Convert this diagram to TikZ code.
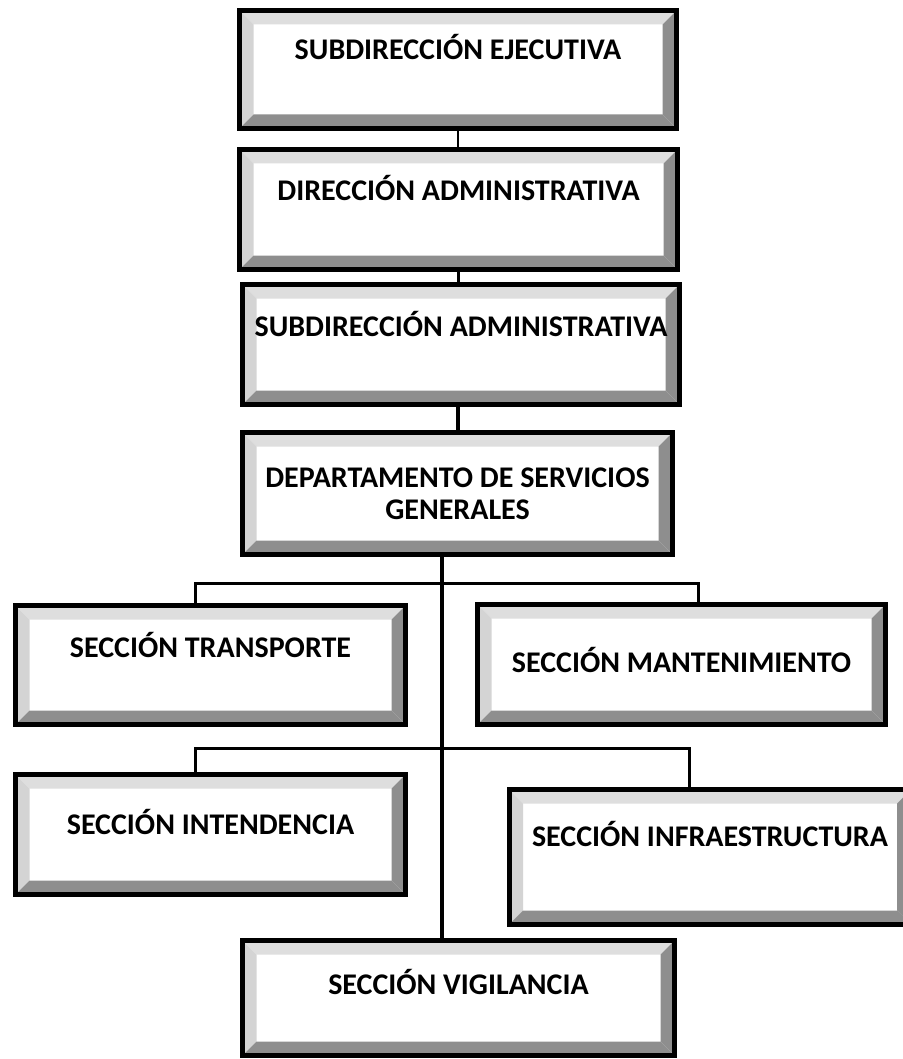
\documentclass[tikz,border=0pt]{standalone}
\usepackage{fontspec}
\setmainfont{Carlito}
\usepackage{tikz}
\usetikzlibrary{calc}
\definecolor{bevtop}{HTML}{DEDEDE}
\definecolor{bevleft}{HTML}{D4D4D4}
\definecolor{bevdark}{HTML}{8E8E8E}

\begin{document}
\begin{tikzpicture}[x=0.5pt,y=-0.5pt,
  bevel/.style={path picture={
    \fill[bevtop] (path picture bounding box.north west) -- (path picture bounding box.north east)
      -- ([shift={(-7pt,-7pt)}]path picture bounding box.north east) -- ([shift={(7pt,-7pt)}]path picture bounding box.north west) -- cycle;
    \fill[bevleft] (path picture bounding box.north west) -- (path picture bounding box.south west)
      -- ([shift={(7pt,7pt)}]path picture bounding box.south west) -- ([shift={(7pt,-7pt)}]path picture bounding box.north west) -- cycle;
    \fill[bevdark] (path picture bounding box.north east) -- (path picture bounding box.south east)
      -- ([shift={(-7pt,7pt)}]path picture bounding box.south east) -- ([shift={(-7pt,-7pt)}]path picture bounding box.north east) -- cycle;
    \fill[bevdark] (path picture bounding box.south west) -- (path picture bounding box.south east)
      -- ([shift={(-7pt,7pt)}]path picture bounding box.south east) -- ([shift={(7pt,7pt)}]path picture bounding box.south west) -- cycle;
  }},
  orgbox/.style={draw,line width=2.5pt,fill=white,inner sep=0pt,bevel,
    font=\bfseries\fontsize{15}{15.8}\selectfont},
  lift/.style={text height=10pt,text depth=#1},
  link/.style={line width=#1}]
  \useasboundingbox (0,0) rectangle (903,1059);

  % boxes
  \node[orgbox,lift=20pt,minimum width=218.5pt,minimum height=59pt] (subej) at (458,69.5) {SUBDIRECCIÓN EJECUTIVA};
  \node[orgbox,lift=19pt,minimum width=219pt,minimum height=60pt] (dirad) at (458.5,209.5) {DIRECCIÓN ADMINISTRATIVA};
  \node[orgbox,lift=18pt,minimum width=218.5pt,minimum height=60pt] (subad) at (461,344.5) {SUBDIRECCIÓN ADMINISTRATIVA};
  \node[orgbox,align=center,minimum width=215pt,minimum height=61pt] (depto) at (457.5,493.5) {DEPARTAMENTO DE SERVICIOS\\GENERALES};
  \node[orgbox,lift=18pt,minimum width=195pt,minimum height=59.5pt] (transp) at (210.5,665) {SECCIÓN TRANSPORTE};
  \node[orgbox,lift=2pt,minimum width=204pt,minimum height=60pt] (mant) at (681.5,664.5) {SECCIÓN MANTENIMIENTO};
  \node[orgbox,lift=10pt,minimum width=195pt,minimum height=60pt] (inten) at (210.5,834.5) {SECCIÓN INTENDENCIA};
  \node[orgbox,lift=21pt,minimum width=201pt,minimum height=67.5pt] (infra) at (710,857) {SECCIÓN INFRAESTRUCTURA};
  \node[orgbox,lift=14pt,minimum width=216pt,minimum height=57.5pt] (vigil) at (458.5,998) {SECCIÓN VIGILANCIA};

  % bus points
  \coordinate (tk) at (442,0);
  \coordinate (b1l) at (195,583);
  \coordinate (b1r) at (698,583);
  \coordinate (b2l) at (195,748);
  \coordinate (b2r) at (689,748);

  % connectors
  \draw[link=1pt] (subej.south) -- (subej.south |- dirad.north);
  \draw[link=1.5pt] (dirad.south) -- (dirad.south |- subad.north);
  \draw[link=2pt] (subad.south -| depto.north) -- (depto.north);
  \draw[link=2pt] (depto.south -| tk) -- (vigil.north -| tk);
  \draw[link=1.5pt] (transp.north -| b1l) -- (b1l) -- (b1r) -- (mant.north -| b1r);
  \draw[link=1.5pt] (inten.north -| b2l) -- (b2l) -- (b2r) -- (infra.north -| b2r);
\end{tikzpicture}
\end{document}
